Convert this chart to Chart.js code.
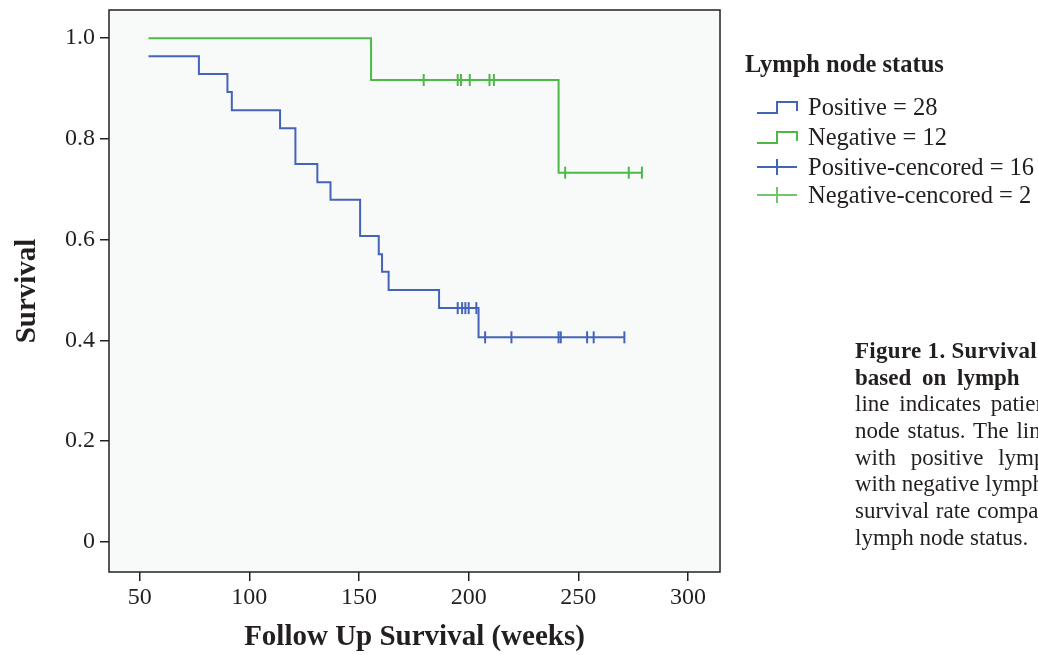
<!DOCTYPE html>
<html>
<head>
<meta charset="utf-8">
<script src="https://cdn.jsdelivr.net/npm/chart.js@4.4.1/dist/chart.umd.min.js"></script>
<style>
  html, body { margin: 0; padding: 0; background: #fff; }
  body { width: 1038px; height: 655px; overflow: hidden; position: relative;
         font-family: 'Liberation Serif', 'Times New Roman', serif; color: #231f20; }
  #chart { position: absolute; left: 0; top: 0; }
  #legend { position: absolute; left: 745px; top: 0; font-size: 24.5px; white-space: nowrap; }
  #legend .title { position: absolute; left: 0; top: 49px; font-weight: bold; line-height: 30px; }
  #legend .row { position: absolute; left: 11px; height: 30px; line-height: 30px; }
  #legend svg { position: absolute; left: 0; top: 0; }
  #legend .row span { position: absolute; left: 52px; top: 0; }
  #caption { position: absolute; left: 855px; top: 338px; font-size: 23px; line-height: 26.7px; white-space: nowrap; }
  #caption div { height: 26.7px; }
</style>
</head>
<body>
<canvas id="chart" width="1038" height="655"></canvas>
<div id="legend"></div>
<div id="caption">
  <div style="font-weight:bold; letter-spacing:0.3px">Figure 1. Survival analysis of patients</div>
  <div style="word-spacing:5px"><b>based on lymph</b><span style="margin-left:24px"><b>node status.</b> The green</span></div>
  <div style="word-spacing:4px">line indicates patients with negative lymph</div>
  <div style="word-spacing:2px">node status. The line indicates patients</div>
  <div style="word-spacing:9px">with positive lymph node status. Patients</div>
  <div>with negative lymph node status had higher</div>
  <div style="word-spacing:1px">survival rate compared to patients with positive</div>
  <div>lymph node status.</div>
</div>
<script>
// Kaplan-Meier steps (weeks, survival)
const posTimes = [54, 77, 90, 92, 114, 121, 131, 137, 150.5, 159, 160.5, 163.5, 186.5, 204.5, 271];
const posSurv  = [0.964, 0.929, 0.893, 0.857, 0.821, 0.750, 0.714, 0.679, 0.607, 0.571, 0.536, 0.500, 0.464, 0.406, 0.406];
const negTimes = [54, 155.5, 241, 279];
const negSurv  = [1.0, 0.917, 0.733, 0.733];

// censored marks
const posCensorX = [195, 197, 198.5, 200, 203.5, 207.5, 219.5, 241, 242, 254, 257, 271];
const posCensorY = [0.464, 0.464, 0.464, 0.464, 0.464, 0.406, 0.406, 0.406, 0.406, 0.406, 0.406, 0.406];
const negCensorX = [179.5, 195, 196.5, 200.5, 209.5, 211.5, 244, 273, 279];
const negCensorY = [0.917, 0.917, 0.917, 0.917, 0.917, 0.917, 0.733, 0.733, 0.733];

const xTicks = [50, 100, 150, 200, 250, 300];
const yTicks = [0, 0.2, 0.4, 0.6, 0.8, 1.0];

const legendTitle = 'Lymph node status';
const legendLabels = ['Positive = 28', 'Negative = 12', 'Positive-cencored = 16', 'Negative-cencored = 2'];

const BLUE = '#4464b8';
const GREEN = '#4db848';
const FONT = "'Liberation Serif', 'Times New Roman', serif";
const INK = '#231f20';

const zip = (xs, ys) => xs.map((x, i) => ({ x, y: ys[i] }));

const plotFrame = {
  id: 'plotFrame',
  beforeDraw(chart) {
    const { ctx, chartArea: a } = chart;
    ctx.save();
    ctx.fillStyle = '#f8f9f9';
    ctx.fillRect(a.left, a.top, a.width, a.height);
    ctx.restore();
  },
  afterDraw(chart) {
    const { ctx, chartArea: a } = chart;
    ctx.save();
    ctx.strokeStyle = '#222';
    ctx.lineWidth = 1.5;
    ctx.strokeRect(a.left, a.top, a.width, a.height);
    ctx.restore();
  }
};

const stepLine = (data, color) => ({
  type: 'line', data, borderColor: color, borderWidth: 2, stepped: 'before',
  pointRadius: 0, fill: false, order: 2
});
const censorMarks = (data, color) => ({
  type: 'scatter', data, borderColor: color, backgroundColor: color, borderWidth: 2,
  pointStyle: 'line', rotation: 90, pointRadius: 6, order: 1
});

new Chart(document.getElementById('chart'), {
  data: {
    datasets: [
      stepLine(zip(negTimes, negSurv), GREEN),
      stepLine(zip(posTimes, posSurv), BLUE),
      censorMarks(zip(negCensorX, negCensorY), GREEN),
      censorMarks(zip(posCensorX, posCensorY), BLUE)
    ]
  },
  options: {
    responsive: false,
    animation: false,
    devicePixelRatio: 1,
    layout: { padding: { left: 0, top: 10, right: 318, bottom: 0 } },
    plugins: { legend: { display: false }, tooltip: { enabled: false } },
    scales: {
      x: {
        type: 'linear', min: 36, max: 314.6,
        afterBuildTicks: s => { s.ticks = xTicks.map(v => ({ value: v })); },
        afterFit: s => { s.height = 83; s.paddingLeft = 0; s.paddingRight = 0; },
        border: { display: false },
        grid: { drawOnChartArea: false, drawTicks: true, tickLength: 9, color: '#222', lineWidth: 1.5 },
        ticks: { font: { family: FONT, size: 24 }, color: INK, padding: 2, maxRotation: 0, autoSkip: false },
        title: { display: true, text: 'Follow Up Survival (weeks)', color: INK,
                 font: { family: FONT, size: 29, weight: 'bold' }, padding: { top: 0, bottom: 0 } }
      },
      y: {
        type: 'linear', min: -0.06, max: 1.056,
        afterBuildTicks: s => { s.ticks = yTicks.map(v => ({ value: v })); },
        afterFit: s => { s.width = 109; s.paddingTop = 0; s.paddingBottom = 0; },
        border: { display: false },
        grid: { drawOnChartArea: false, drawTicks: true, tickLength: 9, color: '#222', lineWidth: 1.5 },
        ticks: { font: { family: FONT, size: 24 }, color: INK, padding: 5,
                 callback: v => v === 0 ? '0' : v.toFixed(1) },
        title: { display: true, text: 'Survival', color: INK,
                 font: { family: FONT, size: 29, weight: 'bold' }, padding: { top: 10, bottom: 0 } }
      }
    }
  },
  plugins: [plotFrame]
});

// legend
const legend = document.getElementById('legend');
const colors = [BLUE, GREEN, BLUE, GREEN];
const rowTops = [92, 122, 152, 180];
legend.innerHTML = `<div class="title">${legendTitle}</div>`;
legendLabels.forEach((label, i) => {
  const c = colors[i];
  const icon = i < 2
    ? `<path d="M1 21 H21 V10 H41 V19" fill="none" stroke="${c}" stroke-width="2"/>`
    : `<path d="M1 15 H41 M21 7 V23" fill="none" stroke="${c}" stroke-width="2" opacity="${i === 3 ? 0.8 : 1}"/>`;
  const row = document.createElement('div');
  row.className = 'row';
  row.style.top = rowTops[i] + 'px';
  row.innerHTML = `<svg width="44" height="30">${icon}</svg><span>${label}</span>`;
  legend.appendChild(row);
});
</script>
</body>
</html>
